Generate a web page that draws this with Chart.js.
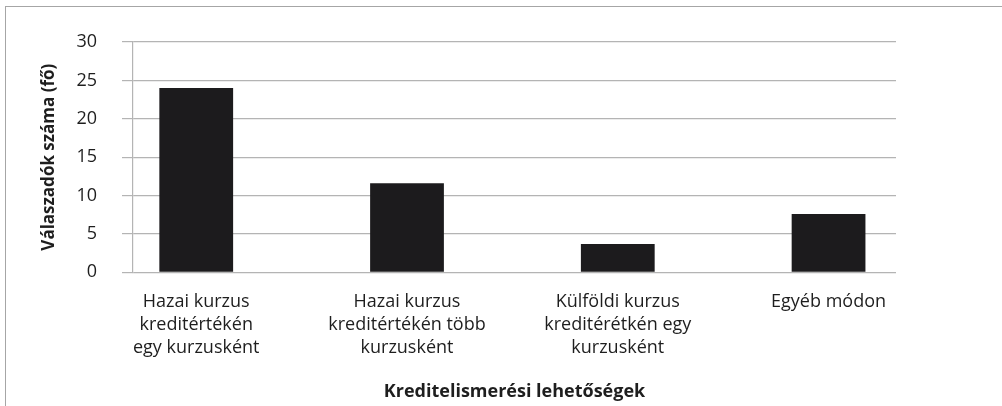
<!DOCTYPE html>
<html>
<head>
<meta charset="utf-8">
<script src="https://cdn.jsdelivr.net/npm/chart.js@4/dist/chart.umd.min.js"></script>
<style>
  body { margin: 0; background: #fff; }
  #wrap { position: relative; width: 1002px; height: 406px; }
  #frame { position: absolute; left: 5px; top: 6px; right: 0; bottom: 0;
           border-left: 1px solid #a6a6a6; border-top: 1px solid #a6a6a6; }
  #box { position: absolute; left: 0; top: 0; width: 1002px; height: 406px; }
</style>
</head>
<body>
<div id="wrap">
  <div id="frame"></div>
  <div id="box"><canvas id="canvasBar"></canvas></div>
</div>
<script>
// kategóriák (kézzel tördelve, mint az eredetin)
var categories = [
  ['Hazai kurzus', 'kreditértékén', 'egy kurzusként'],
  ['Hazai kurzus', 'kreditértékén több', 'kurzusként'],
  ['Külföldi kurzus', 'kreditérétkén egy', 'kurzusként'],
  ['Egyéb módon']
];
// válaszadók száma
var values = [24, 11.6, 3.7, 7.6];
var yTicks = [0, 5, 10, 15, 20, 25, 30];

var fontName = "'Open Sans', sans-serif";
var textColor = '#1e1e1e';
var gridColor = '#b4b4b4';

var ctx = document.getElementById('canvasBar').getContext('2d');
var barChart = new Chart(ctx, {
  type: 'bar',
  data: {
    datasets: [{
      data: values.map(function (v, i) { return { x: i, y: v }; }),
      backgroundColor: '#1c1b1d',
      borderWidth: 0,
      barPercentage: 0.35,
      categoryPercentage: 1
    }]
  },
  options: {
    responsive: true,
    maintainAspectRatio: false,
    animation: false,
    layout: { padding: { left: 39, right: 106, top: 42, bottom: 0 } },
    plugins: { legend: { display: false }, tooltip: { enabled: false } },
    scales: {
      x: {
        type: 'linear',
        offset: false,
        min: -0.3,
        max: 3.32,
        afterBuildTicks: function (scale) {
          scale.ticks = categories.map(function (c, i) { return { value: i }; });
        },
        grid: { display: false, drawTicks: false },
        border: { display: false },
        ticks: {
          color: textColor,
          padding: 18,
          maxRotation: 0,
          autoSkip: false,
          font: { family: fontName, size: 18, lineHeight: 1.28 },
          callback: function (value) { return categories[value] || ''; }
        },
        title: {
          display: true,
          text: 'Kreditelismerési lehetőségek',
          color: textColor,
          font: { family: fontName, size: 18, weight: 'bold' },
          padding: { top: 4, bottom: 3 }
        }
      },
      y: {
        min: 0,
        max: 30,
        afterBuildTicks: function (scale) {
          scale.ticks = yTicks.map(function (t) { return { value: t }; });
        },
        afterFit: function (scale) { scale.width = 94; },
        grid: { color: gridColor, lineWidth: 1.2, tickLength: 11, tickColor: gridColor },
        border: { display: true, color: gridColor, width: 1.2 },
        ticks: {
          color: textColor,
          padding: 25,
          font: { family: fontName, size: 18 }
        },
        title: {
          display: true,
          text: 'Válaszadók száma (fő)',
          color: textColor,
          font: { family: fontName, size: 17, weight: 'bold' },
          padding: { top: 0, bottom: 18 }
        }
      }
    }
  }
});
</script>
</body>
</html>
